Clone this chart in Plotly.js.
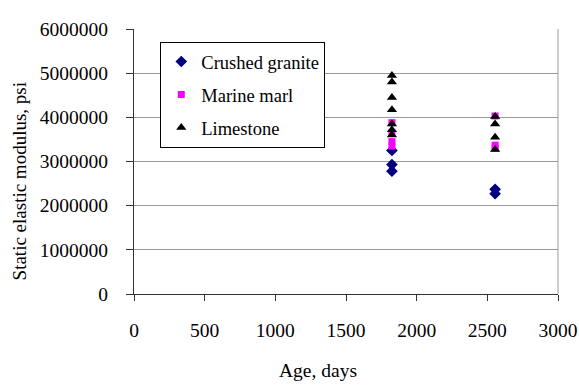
<!DOCTYPE html>
<html>
<head>
<meta charset="utf-8">
<script src="https://cdn.plot.ly/plotly-3.0.1.min.js"></script>
<style>
  html, body { margin: 0; padding: 0; background: #fff; }
  #chart { width: 579px; height: 385px; }
</style>
</head>
<body>
<div id="chart"></div>
<script>
// ages, days (5 and 7 years)
const graniteAge = [1825, 1825, 1825, 2555, 2555];
const graniteModulus = [3250000, 2930000, 2780000, 2370000, 2270000];

const marlAge = [1825, 1825, 1825, 1825, 2555, 2555, 2555];
const marlModulus = [3880000, 3650000, 3450000, 3350000, 4030000, 3370000, 3300000];

const limestoneAge = [1825, 1825, 1825, 1825, 1825, 1825, 1825, 2555, 2555, 2555, 2555];
const limestoneModulus = [4950000, 4800000, 4450000, 4170000, 3850000, 3720000, 3600000, 4020000, 3850000, 3550000, 3270000];

const xTicks = [0, 500, 1000, 1500, 2000, 2500, 3000];
const yTicks = [0, 1000000, 2000000, 3000000, 4000000, 5000000, 6000000];

const serif = 'Liberation Serif';
const tickFont = { family: serif, size: 19.5, color: '#000' };

const data = [
    {
        x: graniteAge,
        y: graniteModulus,
        name: 'Crushed granite',
        legendgroup: 'g1',
        type: 'scatter',
        mode: 'markers',
        marker: { symbol: 'diamond', size: 9, color: '#000080' }
    },
    {
        x: marlAge,
        y: marlModulus,
        name: 'Marine marl',
        legendgroup: 'g2',
        type: 'scatter',
        mode: 'markers',
        marker: { symbol: 'square', size: 7, color: '#ff00ff' }
    },
    {
        x: limestoneAge,
        y: limestoneModulus,
        name: 'Limestone',
        legendgroup: 'g3',
        type: 'scatter',
        mode: 'markers',
        marker: { symbol: 'triangle-up', size: 9, color: '#000000' }
    }
];

const layout = {
    width: 579,
    height: 385,
    margin: { l: 134, r: 21, t: 29, b: 91 },
    paper_bgcolor: '#fff',
    plot_bgcolor: '#fff',
    font: { family: serif, size: 19, color: '#000' },
    showlegend: true,
    legend: {
        x: 0.062, y: 0.951,
        xanchor: 'left', yanchor: 'top',
        bgcolor: '#fff',
        bordercolor: '#000',
        borderwidth: 1,
        tracegroupgap: 6,
        itemwidth: 30,
        font: { family: serif, size: 18.5, color: '#000' }
    },
    xaxis: {
        range: [0, 3000],
        tickvals: xTicks,
        ticktext: xTicks.map(String),
        tickfont: tickFont,
        ticks: 'outside',
        ticklen: 6,
        tickcolor: '#333',
        ticklabelstandoff: 13,
        showgrid: false,
        zeroline: false,
        showline: true,
        linecolor: '#333',
        linewidth: 1
    },
    yaxis: {
        range: [0, 6000000],
        tickvals: yTicks,
        ticktext: yTicks.map(String),
        tickfont: tickFont,
        ticks: 'outside',
        ticklen: 7,
        tickcolor: '#333',
        ticklabelstandoff: 14,
        showgrid: true,
        gridcolor: '#9a9a9a',
        gridwidth: 1,
        zeroline: false,
        showline: true,
        linecolor: '#333',
        linewidth: 1
    },
    shapes: [
        // right border of the plot area
        {
            type: 'line', xref: 'paper', yref: 'paper',
            x0: 1, x1: 1, y0: 0, y1: 1,
            line: { color: '#9a9a9a', width: 1 },
            layer: 'below'
        }
    ],
    annotations: [
        {
            text: 'Age, days',
            xref: 'paper', yref: 'paper',
            x: (318 - 134) / 424, y: -0.287,
            xanchor: 'center', yanchor: 'middle',
            showarrow: false,
            font: { family: serif, size: 19.5, color: '#000' }
        },
        {
            text: 'Static elastic modulus, psi',
            xref: 'paper', yref: 'paper',
            x: -0.27, y: 0.423,
            xanchor: 'center', yanchor: 'middle',
            textangle: -90,
            showarrow: false,
            font: { family: serif, size: 19, color: '#000' }
        }
    ]
};

Plotly.newPlot('chart', data, layout, { staticPlot: true, displayModeBar: false });
</script>
</body>
</html>
